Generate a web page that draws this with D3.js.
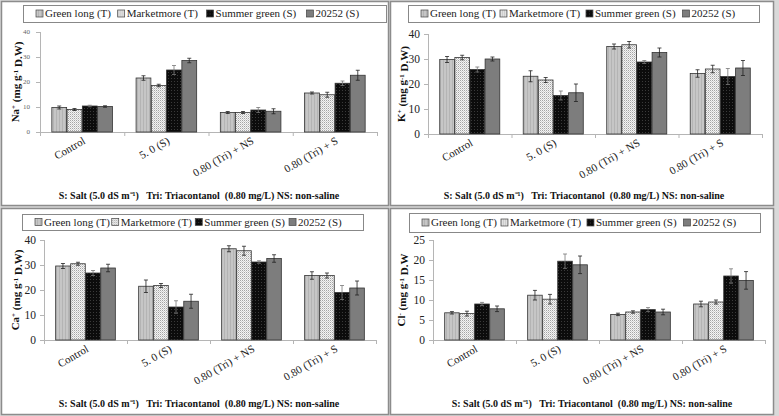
<!DOCTYPE html>
<html>
<head>
<meta charset="utf-8">
<script src="https://cdn.jsdelivr.net/npm/d3@7"></script>
<style>
  body { margin: 0; background: #fff; }
  svg { display: block; }
</style>
</head>
<body>
<svg id="chart" width="779" height="416"></svg>
<script>
// categories and series
const categories = ["Control", "5. 0 (S)", "0.80 (Tri) + NS", "0.80 (Tri) + S"];
const seriesNames = ["Green long (T)", "Marketmore (T)", "Summer green (S)", "20252 (S)"];

// values per series, one entry per category
const naValues = [[9.8, 21.6, 7.8, 15.6], [9.0, 18.6, 7.8, 14.9], [10.4, 24.8, 8.8, 19.5], [10.2, 28.6, 8.3, 22.7]];
const naErrors = [[0.6, 0.9, 0.4, 0.4], [0.4, 0.5, 0.4, 1.0], [0.3, 1.8, 1.0, 0.9], [0.3, 0.9, 1.0, 2.0]];

const kValues = [[29.8, 23.1, 35.0, 24.2], [30.6, 21.6, 35.7, 26.0], [25.8, 15.4, 28.8, 23.0], [30.0, 16.5, 32.6, 26.4]];
const kErrors = [[1.2, 2.2, 1.0, 1.5], [0.9, 1.0, 1.3, 1.5], [1.0, 1.8, 0.6, 3.2], [0.8, 3.5, 1.8, 3.0]];

const caValues = [[29.6, 21.5, 36.5, 25.8], [30.5, 21.8, 35.7, 25.8], [26.8, 13.2, 31.2, 19.0], [28.8, 15.5, 32.6, 20.8]];
const caErrors = [[1.0, 2.5, 1.2, 1.5], [0.6, 0.8, 1.8, 1.0], [1.0, 2.5, 0.5, 2.8], [1.5, 2.8, 1.5, 2.8]];

const clValues = [[6.8, 11.2, 6.4, 9.0], [6.6, 10.2, 7.0, 9.5], [9.0, 19.7, 7.6, 16.0], [7.8, 18.8, 7.0, 14.9]];
const clErrors = [[0.3, 1.2, 0.3, 0.7], [0.6, 1.2, 0.3, 0.5], [0.4, 1.8, 0.5, 1.8], [0.7, 2.2, 0.7, 2.2]];

const naTicks = [0, 10, 20, 30, 40];
const kTicks = [0, 10, 20, 30, 40];
const caTicks = [0, 10, 20, 30, 40];
const clTicks = [0, 5, 10, 15, 20, 25];

const footnote = "S: Salt (5.0 dS m\u207B\u00B9)   Tri: Triacontanol  (0.80 mg/L) NS: non-saline";
const FONT = "Liberation Serif";

const svg = d3.select("#chart");
const defs = svg.append("defs");

// bar fills
function pattern(id, w, h, bg, draw) {
    const p = defs.append("pattern").attr("id", id)
        .attr("patternUnits", "userSpaceOnUse").attr("width", w).attr("height", h);
    p.append("rect").attr("width", w).attr("height", h).attr("fill", bg);
    draw(p);
}
pattern("pGreen", 3, 3, "#c6c6c6", p => {
    p.append("rect").attr("x", 2).attr("width", 1).attr("height", 3).attr("fill", "#b4b4b4");
});
pattern("pMarket", 2, 2, "#f4f4f4", p => {
    p.append("rect").attr("x", 0).attr("y", 0).attr("width", 1).attr("height", 1).attr("fill", "#a4a4a4");
    p.append("rect").attr("x", 1).attr("y", 1).attr("width", 1).attr("height", 1).attr("fill", "#d0d0d0");
});
pattern("pSummer", 3, 3, "#0c0c0c", p => {
    p.append("rect").attr("width", 1).attr("height", 1).attr("fill", "#3a3a3a");
});
const fills = ["url(#pGreen)", "url(#pMarket)", "url(#pSummer)", "#7d7d7d"];

// backdrop between panels
svg.append("rect").attr("width", 779).attr("height", 416).attr("fill", "#d9d9d9");

const panels = [
    { values: naValues, errors: naErrors, ticks: naTicks, ion: "Na", sup: "+", close: ")",
      frame: [1, 1, 388, 205], left: 40, right: 377, top: 32, bottom: 132, tickFont: 7, tickColor: "#666",
      legend: [23, 5, 363, 17], labelX: 15, footX: 199, footY: 199 },
    { values: kValues, errors: kErrors, ticks: kTicks, ion: "K", sup: "+", close: ")",
      frame: [390, 1, 384, 205], left: 428, right: 762, top: 34, bottom: 134, tickFont: 11.5, tickColor: "#222",
      legend: [408, 5, 351, 17], labelX: 401, footX: 584, footY: 199 },
    { values: caValues, errors: caErrors, ticks: caTicks, ion: "Ca", sup: "+", close: ")",
      frame: [1, 208, 388, 207], left: 44, right: 376, top: 240, bottom: 340, tickFont: 11.5, tickColor: "#222",
      legend: [22, 214, 341, 16], labelX: 15, footX: 199, footY: 407 },
    { values: clValues, errors: clErrors, ticks: clTicks, ion: "Cl", sup: "-", close: "",
      frame: [390, 208, 384, 207], left: 433, right: 765, top: 240, bottom: 340, tickFont: 11.5, tickColor: "#222",
      legend: [409, 213, 351, 19], labelX: 401, footX: 592, footY: 407 }
];

panels.forEach(drawPanel);

function drawPanel(cfg) {
    const [fx, fy, fw, fh] = cfg.frame;
    const g = svg.append("g");

    g.append("rect")
        .attr("x", fx + 0.5).attr("y", fy + 0.5)
        .attr("width", fw - 1).attr("height", fh - 1)
        .attr("fill", "#fff").attr("stroke", "#8c8c8c").attr("stroke-width", 1.5);

    const yMax = d3.max(cfg.ticks);
    const x0 = d3.scaleBand().domain(categories).range([cfg.left, cfg.right]).paddingInner(0.27).paddingOuter(0.135);
    const x1 = d3.scaleBand().domain(seriesNames).range([0, x0.bandwidth()]).padding(0.03);
    const y = d3.scaleLinear().domain([0, yMax]).range([cfg.bottom, cfg.top]);

    // y axis
    g.append("line")
        .attr("x1", cfg.left + 0.5).attr("x2", cfg.left + 0.5)
        .attr("y1", cfg.top).attr("y2", cfg.bottom)
        .attr("stroke", "#b5b5b5");
    g.selectAll("line.ytick").data(cfg.ticks).join("line")
        .attr("class", "ytick")
        .attr("x1", cfg.left - 4).attr("x2", cfg.left)
        .attr("y1", d => y(d) + 0.5).attr("y2", d => y(d) + 0.5)
        .attr("stroke", "#b5b5b5");
    g.selectAll("text.ytick").data(cfg.ticks).join("text")
        .attr("class", "ytick")
        .attr("x", cfg.left - (cfg.tickFont < 10 ? 10 : 8))
        .attr("y", d => y(d))
        .attr("dy", "0.35em")
        .attr("text-anchor", "end")
        .attr("font-family", FONT)
        .attr("font-size", cfg.tickFont)
        .attr("fill", cfg.tickColor)
        .text(d => d);

    // x axis
    const bounds = d3.range(categories.length + 1).map(i => cfg.left + i * (cfg.right - cfg.left) / categories.length);
    g.append("line")
        .attr("x1", cfg.left).attr("x2", cfg.right)
        .attr("y1", cfg.bottom + 0.5).attr("y2", cfg.bottom + 0.5)
        .attr("stroke", "#b5b5b5");
    g.selectAll("line.xtick").data(bounds).join("line")
        .attr("class", "xtick")
        .attr("x1", d => d + 0.5).attr("x2", d => d + 0.5)
        .attr("y1", cfg.bottom).attr("y2", cfg.bottom + 4)
        .attr("stroke", "#b5b5b5");
    g.selectAll("text.xlab").data(categories).join("text")
        .attr("class", "xlab")
        .attr("transform", d => `translate(${x0(d) + x0.bandwidth() / 2 + 4},${cfg.bottom + 11}) rotate(-30)`)
        .attr("text-anchor", "end")
        .attr("font-family", FONT)
        .attr("font-size", 11)
        .attr("fill", "#222")
        .text(d => d);

    // bars
    seriesNames.forEach((s, si) => {
        const rows = categories.map((c, ci) => ({ c, v: cfg.values[si][ci], e: cfg.errors[si][ci] }));
        const sg = g.append("g");
        sg.selectAll("rect").data(rows).join("rect")
            .attr("x", d => x0(d.c) + x1(s))
            .attr("y", d => y(d.v))
            .attr("width", x1.bandwidth())
            .attr("height", d => cfg.bottom - y(d.v))
            .attr("fill", fills[si])
            .attr("stroke", "#333").attr("stroke-width", 0.8);
        const eb = sg.selectAll("g.err").data(rows).join("g").attr("class", "err")
            .attr("transform", d => `translate(${x0(d.c) + x1(s) + x1.bandwidth() / 2},0)`);
        eb.append("line")
            .attr("y1", d => y(d.v + d.e)).attr("y2", d => y(d.v - d.e))
            .attr("stroke", si === 2 ? "#777" : "#222").attr("stroke-width", 0.8);
        eb.selectAll("line.cap").data(d => [d.v + d.e, d.v - d.e]).join("line")
            .attr("class", "cap")
            .attr("x1", -2).attr("x2", 2)
            .attr("y1", d => y(d)).attr("y2", d => y(d))
            .attr("stroke", si === 2 ? "#777" : "#222").attr("stroke-width", 0.8);
    });

    // y label
    const lab = g.append("text")
        .attr("transform", `translate(${cfg.labelX},${(cfg.top + cfg.bottom) / 2}) rotate(-90)`)
        .attr("text-anchor", "middle")
        .attr("dy", "0.35em")
        .attr("font-family", FONT)
        .attr("font-size", 11)
        .attr("font-weight", "bold")
        .attr("fill", "#111");
    lab.append("tspan").text(cfg.ion);
    lab.append("tspan").attr("dy", "-0.35em").attr("font-size", 7).text(cfg.sup);
    lab.append("tspan").attr("dy", "0.35em").text(" (mg g");
    lab.append("tspan").attr("dy", "-0.35em").attr("font-size", 7).text("-1");
    lab.append("tspan").attr("dy", "0.35em").text(" D.W" + cfg.close);

    // legend
    const [lx, ly, lw, lh] = cfg.legend;
    g.append("rect")
        .attr("x", lx + 0.5).attr("y", ly + 0.5).attr("width", lw).attr("height", lh)
        .attr("fill", "#fff").attr("stroke", "#888");
    const offsets = [0, 0.225, 0.47, 0.745];
    const item = g.selectAll("g.leg").data(seriesNames).join("g").attr("class", "leg")
        .attr("transform", (d, i) => `translate(${lx + 13 + offsets[i] * lw},${ly + lh / 2})`);
    item.append("rect")
        .attr("x", 0).attr("y", -3.5).attr("width", 7).attr("height", 7)
        .attr("fill", (d, i) => fills[i]).attr("stroke", "#444").attr("stroke-width", 0.7);
    item.append("text")
        .attr("x", 9).attr("dy", "0.35em")
        .attr("font-family", FONT)
        .attr("font-size", 11).attr("fill", "#222")
        .text(d => d);

    // footnote
    g.append("text")
        .attr("x", cfg.footX).attr("y", cfg.footY)
        .attr("text-anchor", "middle")
        .attr("font-family", FONT)
        .attr("font-size", 10)
        .attr("font-weight", "bold")
        .attr("fill", "#111")
        .style("white-space", "pre")
        .text(footnote);
}
</script>
</body>
</html>
